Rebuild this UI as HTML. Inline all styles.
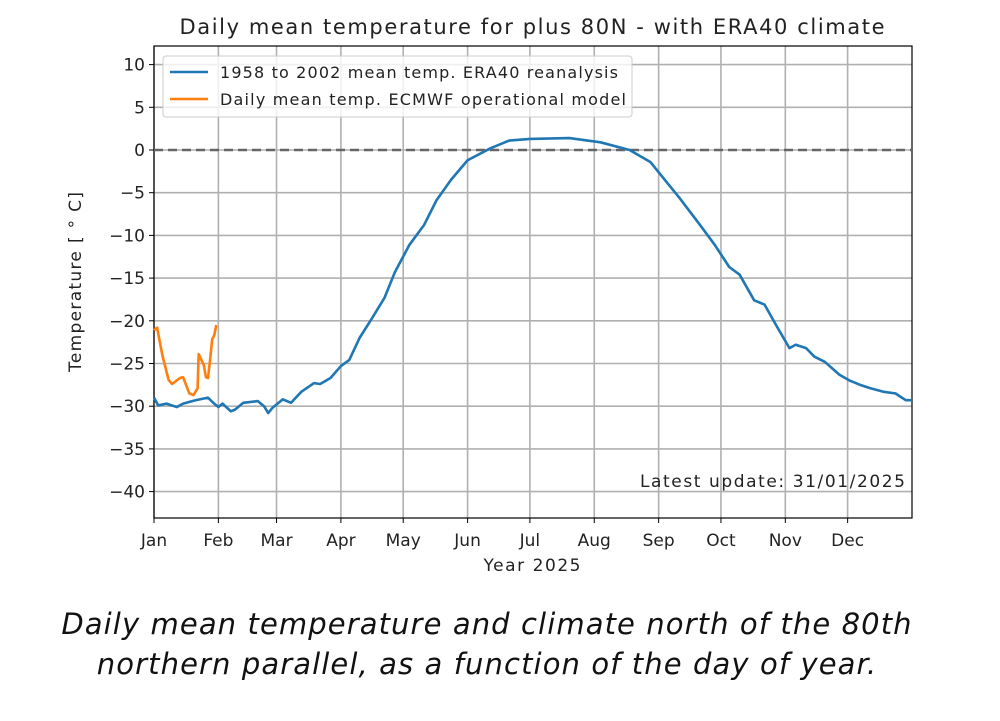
<!DOCTYPE html>
<html><head><meta charset="utf-8"><style>
body{margin:0;background:#fff;width:1000px;height:721px;overflow:hidden}
svg text{font-family:"DejaVu Sans","Liberation Sans",sans-serif;fill:#222}
.cap{position:absolute;left:-13px;width:1000px;text-align:center;font-family:"DejaVu Sans","Liberation Sans",sans-serif;font-style:italic;font-size:29px;letter-spacing:1.1px;color:#111;line-height:40px}
</style></head><body>
<svg id="chart" width="1000" height="600" style="position:absolute;left:0;top:0">
<g id="grid"></g>
<g id="axes"></g>
<text x="532" y="34" font-size="21" text-anchor="middle" textLength="705" lengthAdjust="spacing">Daily mean temperature for plus 80N - with ERA40 climate</text>
<text x="532" y="571" font-size="17" text-anchor="middle" textLength="97" lengthAdjust="spacing">Year 2025</text>
<text transform="translate(81,282) rotate(-90)" font-size="17" text-anchor="middle" textLength="180" lengthAdjust="spacing">Temperature [ ° C]</text>
<g id="series"></g>
<g>
<rect x="163" y="56" width="469" height="61" rx="3" fill="#fff" fill-opacity="0.8" stroke="#ccc"/>
<line x1="170" y1="72" x2="208" y2="72" stroke="#1f77b4" stroke-width="2.5"/>
<text x="220" y="78" font-size="16" textLength="398" lengthAdjust="spacing">1958 to 2002 mean temp. ERA40 reanalysis</text>
<line x1="170" y1="99" x2="208" y2="99" stroke="#ff7f0e" stroke-width="2.5"/>
<text x="220" y="105" font-size="16" textLength="406" lengthAdjust="spacing">Daily mean temp. ECMWF operational model</text>
</g>
<text x="905" y="487" font-size="17" text-anchor="end" textLength="265" lengthAdjust="spacing">Latest update: 31/01/2025</text>
</svg>
<div class="cap" style="top:604px">Daily mean temperature and climate north of the 80th<br>northern parallel, as a function of the day of year.</div>
<script>
const monthLabels=["Jan","Feb","Mar","Apr","May","Jun","Jul","Aug","Sep","Oct","Nov","Dec"];
const monthStartDays=[0,31,59,90,120,151,181,212,243,273,304,334];
const yTicks=[10,5,0,-5,-10,-15,-20,-25,-30,-35,-40];
const climDays=[0,2,6,11,14,20,26,29,31,33,37,39,43,50,53,55,57,62,66,71,77,80,85,90,94,99,105,111,116,123,130,136,143,151,162,171,181,200,215,229,239,246,253,263,270,277,282,289,294,300,306,309,314,318,323,330,335,340,345,351,357,362,365];
const climTemps=[-29.0,-29.9,-29.7,-30.1,-29.7,-29.3,-29.0,-29.7,-30.1,-29.7,-30.6,-30.4,-29.6,-29.4,-30.0,-30.8,-30.2,-29.2,-29.6,-28.3,-27.3,-27.4,-26.7,-25.3,-24.6,-22.0,-19.7,-17.3,-14.3,-11.1,-8.8,-5.9,-3.5,-1.2,0.2,1.1,1.3,1.4,0.9,0.0,-1.4,-3.5,-5.6,-8.8,-11.1,-13.7,-14.6,-17.6,-18.1,-20.7,-23.2,-22.8,-23.2,-24.2,-24.8,-26.3,-27.0,-27.5,-27.9,-28.3,-28.5,-29.3,-29.3];
const opDays=[0,1.5,4,7,8.7,12.5,14,17,19,21,21.5,24,25,26,27,28,29,30];
const opTemps=[-21.1,-20.8,-24.0,-26.9,-27.4,-26.7,-26.6,-28.5,-28.7,-27.9,-23.9,-25.2,-26.6,-26.7,-24.6,-22.2,-21.7,-20.5];
const X0=154,X1=912,Y0=46,Y1=518;
const xs=d=>X0+d*(X1-X0)/365;
const ys=v=>150-v*8.54;
const NS="http://www.w3.org/2000/svg";
function mk(t,a,p){const e=document.createElementNS(NS,t);for(const k in a)e.setAttribute(k,a[k]);p.appendChild(e);return e;}
const grid=document.getElementById('grid'),axes=document.getElementById('axes'),series=document.getElementById('series');
monthStartDays.forEach((d,i)=>{
 const l=mk('line',{x1:xs(d),x2:xs(d),y1:Y0,y2:Y1,stroke:'#b0b0b0','stroke-width':1.6},grid);
 
 
 mk('line',{x1:xs(d),x2:xs(d),y1:Y1,y2:Y1+5,stroke:'#000'},axes);
 const t=mk('text',{x:xs(d),y:Y1+28,'font-size':17,'text-anchor':'middle'},axes);
 
 
 t.textContent=monthLabels[i];
});
yTicks.forEach(v=>{
 const l=mk('line',{x1:X0,x2:X1,y1:ys(v),y2:ys(v),stroke:'#b0b0b0','stroke-width':1.6},grid);
 
 
 mk('line',{x1:X0-5,x2:X0,y1:ys(v),y2:ys(v),stroke:'#000'},axes);
 const t=mk('text',{x:X0-9,y:ys(v)+6,'font-size':17,'text-anchor':'end'},axes);
 
 
 t.textContent=(v<0?'\u2212'+(-v):v);
});
const fr=mk('rect',{x:X0,y:Y0,width:X1-X0,height:Y1-Y0,fill:'none',stroke:'#000','stroke-width':1.2},axes);


const zl=mk('line',{x1:X0,x2:X1,y1:ys(0),y2:ys(0),stroke:'#666','stroke-width':2.5,'stroke-dasharray':'9,5'},series);


const p1=mk('polyline',{points:climDays.map((d,i)=>xs(d)+','+ys(climTemps[i])).join(' '),fill:'none',stroke:'#1f77b4','stroke-width':2.6,'stroke-linejoin':'round'},series);


const p2=mk('polyline',{points:opDays.map((d,i)=>xs(d)+','+ys(opTemps[i])).join(' '),fill:'none',stroke:'#ff7f0e','stroke-width':2.6,'stroke-linejoin':'round'},series);


</script>
</body></html>
